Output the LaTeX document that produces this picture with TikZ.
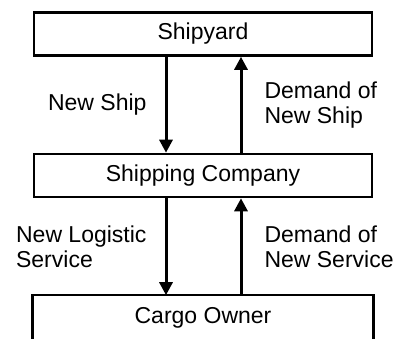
\documentclass[tikz,border=0pt]{standalone}
\usepackage{fontspec}
\setmainfont{Liberation Sans}
\usetikzlibrary{arrows.meta}

\begin{document}
\begin{tikzpicture}[x=5pt,y=5pt,font=\fontsize{11.5}{12.5}\selectfont,
    party/.style={draw,line width=1.3pt,minimum width=169pt,minimum height=21.5pt,inner sep=0pt},
    flow/.style={line width=1.5pt,-{Triangle[width=6.5pt,length=6.5pt]}},
    lbl/.style={align=left,inner sep=0pt}]
  \clip (0,0) rectangle (39.7,33.8);

  \node[party] (yard) at (20.3,30.4) {Shipyard};
  \node[party] (company) at (20.3,16.25) {Shipping Company};
  % bottom box runs off the lower edge, so no bottom side
  \node[party,draw=none] (owner) at (20.3,2.0) {Cargo Owner};
  \draw[line width=1.3pt] ([yshift=-5pt]owner.south west) |- (owner.north east)
    -- ([yshift=-5pt]owner.south east);

  % goods go down, demand goes up
  \draw[flow] ([xshift=-18.5pt]yard.south) -- ([xshift=-18.5pt]company.north)
    node[lbl,midway,left=9pt] (ship) {New Ship};
  \draw[flow] ([xshift=19pt]company.north) -- ([xshift=19pt]yard.south)
    node[lbl,midway,right=11pt] (shipdemand) {Demand of\\New Ship};

  \draw[flow] ([xshift=-18.5pt]company.south) -- ([xshift=-18.5pt]owner.north)
    node[lbl,midway,left=9pt] (service) {New Logistic\\Service};
  \draw[flow] ([xshift=19pt]owner.north) -- ([xshift=19pt]company.south)
    node[lbl,midway,right=11pt] (servicedemand) {Demand of\\New Service};
\end{tikzpicture}
\end{document}
